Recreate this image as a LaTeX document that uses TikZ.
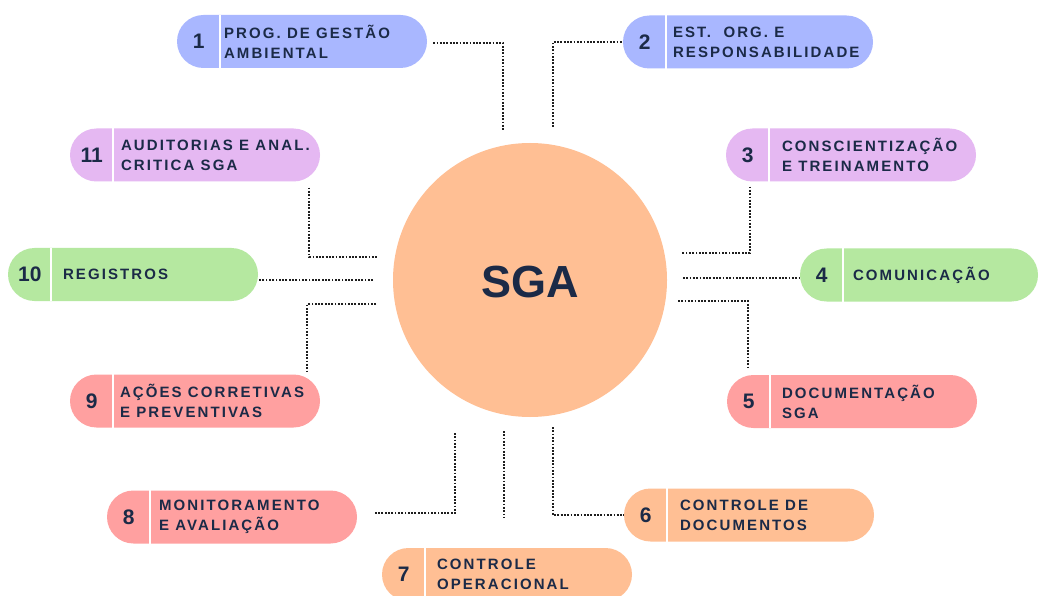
\documentclass[tikz,border=0pt]{standalone}
\usepackage{fontspec}
\setmainfont{Liberation Sans}
\newfontfamily\lblfont[LetterSpace=14]{Liberation Sans}
\usetikzlibrary{calc}

\definecolor{ink}{HTML}{1B2A47}
\definecolor{pillblue}{HTML}{A9B7FF}
\definecolor{pillviolet}{HTML}{E5B8F2}
\definecolor{pillgreen}{HTML}{B5E8A0}
\definecolor{pillrose}{HTML}{FFA0A0}
\definecolor{pillpeach}{HTML}{FFBF94}
\definecolor{dotgray}{HTML}{1E1E1E}

\tikzset{
  pillbox/.style={rectangle, rounded corners=26.5pt, minimum width=250pt,
    minimum height=53pt, inner sep=0pt, draw=none},
  divider/.style={white, line width=2pt},
  num/.style={font=\bfseries\fontsize{21}{21}\selectfont, text=ink, inner sep=0pt},
  lbl/.style={font=\lblfont\bfseries\fontsize{15}{20}\selectfont, text=ink,
    align=left, anchor=west, inner sep=0pt},
  dotline/.style={draw=dotgray, line width=2.3pt, dash pattern=on 1.8pt off 1.5pt},
  hub/.style={circle, fill=pillpeach, minimum size=274pt, inner sep=0pt},
}

% pill: name, centre, width, colour, number, text offset, label
\newcommand\pillitem[7]{%
  \node[pillbox, fill=#4, minimum width=#3] (#1) at (#2) {};
  \draw[divider] ([xshift=43pt]#1.north west) -- ([xshift=43pt]#1.south west);
  \node[num] (#1n) at ([xshift=22pt]#1.west) {#5};
  \node[lbl] (#1t) at ([xshift=#6]#1.west) {#7};
}

\begin{document}
\begin{tikzpicture}[x=1pt, y=-1pt]
  \fill[white] (0,0) rectangle (1039,596);
  \clip (0,0) rectangle (1039,596);

  % central system
  \node[hub] (sga) at (530,280) {};
  \node[anchor=base, text=ink, inner sep=0pt,
        font=\bfseries\fontsize{45}{45}\selectfont] (sgat) at (530.5,297) {SGA};

  % elements
  \pillitem{p1}{302,41.5}{250pt}{pillblue}{1}{47pt}{PROG. DE GESTÃO\\AMBIENTAL}
  \pillitem{p2}{748,42}{250pt}{pillblue}{2}{50pt}{EST.\ \ ORG. E\\RESPONSABILIDADE}
  \pillitem{p11}{195,155}{250pt}{pillviolet}{11}{51pt}{AUDITORIAS E ANAL.\\CRITICA SGA}
  \pillitem{p3}{851,155}{250pt}{pillviolet}{3}{56pt}{CONSCIENTIZAÇÃO\\E TREINAMENTO}
  \pillitem{p10}{133,274.5}{250pt}{pillgreen}{10}{55pt}{REGISTROS}
  \pillitem{p4}{919,275}{238pt}{pillgreen}{4}{53pt}{COMUNICAÇÃO}
  \pillitem{p9}{195,401}{250pt}{pillrose}{9}{50pt}{AÇÕES CORRETIVAS\\E PREVENTIVAS}
  \pillitem{p5}{852,401.5}{250pt}{pillrose}{5}{55pt}{DOCUMENTAÇÃO\\SGA}
  \pillitem{p8}{232,517}{250pt}{pillrose}{8}{52pt}{MONITORAMENTO\\E AVALIAÇÃO}
  \pillitem{p7}{507,574.5}{250pt}{pillpeach}{7}{55pt}{CONTROLE\\OPERACIONAL}
  \pillitem{p6}{749,515}{250pt}{pillpeach}{6}{56pt}{CONTROLE DE\\DOCUMENTOS}

  % free ends of the connectors near the hub
  \coordinate (e1) at (503,131);
  \coordinate (e2) at (553,127);
  \coordinate (e11) at (377,257);
  \coordinate (e10) at (373,280);
  \coordinate (e3) at (682,253);
  \coordinate (e4) at (683,278);
  \coordinate (e5) at (678,301);
  \coordinate (e9) at (376,304);
  \coordinate (e8) at (455,433);
  \coordinate (e7a) at (504,431);
  \coordinate (e7b) at (504,517);
  \coordinate (e6) at (553,427);

  % connectors
  \draw[dotline] ([xshift=6pt,yshift=-1.5pt]p1.east) -| (e1);
  \draw[dotline] (e2) |- (p2.west);
  \draw[dotline] ([xshift=-11pt,yshift=-6pt]p11.south east) |- (e11);
  \draw[dotline] (e10) -- (e10 -| p10.east);
  \draw[dotline] ([xshift=24pt,yshift=-5pt]p3.south west) |- (e3);
  \draw[dotline] (e4) -- (e4 -| p4.west);
  \draw[dotline] (e5) -| ([xshift=21pt,yshift=6pt]p5.north west);
  \draw[dotline] (e9) -| ([xshift=-13pt,yshift=3pt]p9.north east);
  \draw[dotline] (e8) |- ([xshift=17pt,yshift=4pt]p8.east);
  \draw[dotline] (e7a) -- (e7b);
  \draw[dotline] (e6) |- (p6.west);
\end{tikzpicture}
\end{document}
